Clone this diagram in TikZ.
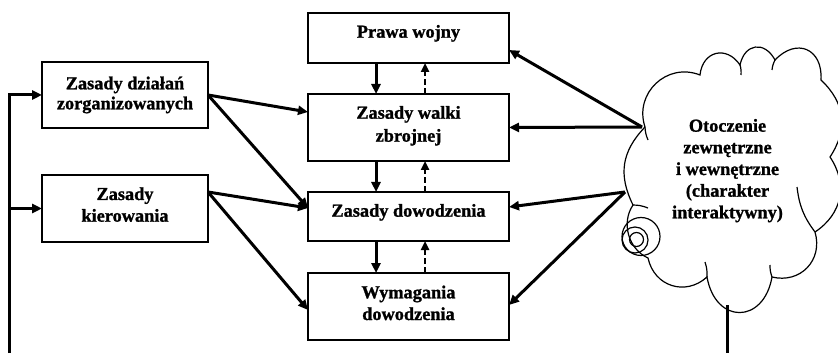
\documentclass[tikz,border=0pt]{standalone}
\usepackage{fontspec}
\newfontfamily\labelface{Liberation Serif}[UprightFont={* Bold}, UprightFeatures={FakeBold=1.2}]
\usetikzlibrary{arrows.meta,calc}
\newcommand\diagfont{\fontsize{9.15}{11}\selectfont\labelface}
\begin{document}
\begin{tikzpicture}[x=0.5pt,y=0.5pt,
  box/.style={draw, line width=0.6pt, inner sep=0pt, outer sep=0pt},
  midbox/.style={box, minimum width=100.5pt},
  sidebox/.style={box, minimum width=83pt, minimum height=33pt},
  lbl/.style={anchor=base, inner sep=0pt, font=\diagfont},
  conn/.style={line width=1.5pt, -{Triangle[length=5pt,width=4.5pt]}},
  back/.style={line width=1.2pt, dash pattern=on 3pt off 1.5pt,
    -{Triangle[length=4.5pt,width=4pt]}},
  plain/.style={line width=1.5pt},
  cloudline/.style={line width=0.6pt}]
\useasboundingbox (0,0) rectangle (838,353);

% central column
\node[midbox, minimum height=25pt]   (pw) at (408.5,315)   {};
\node[midbox, minimum height=33.5pt] (zw) at (408.5,225.5) {};
\node[midbox, minimum height=24.5pt] (zd) at (408.5,136.5) {};
\node[midbox, minimum height=33.5pt] (wd) at (408.5,46.5)  {};
\node[lbl] (pw1) at (408.5,315.3) {Prawa wojny};
\node[lbl] (zw1) at (408.5,234.3) {Zasady walki};
\node[lbl] (zw2) at (408.5,211.3) {zbrojnej};
\node[lbl] (zd1) at (408.5,136.3) {Zasady dowodzenia};
\node[lbl] (wd1) at (408.5,54.7)  {Wymagania};
\node[lbl] (wd2) at (408.5,33)    {dowodzenia};

% left column
\node[sidebox] (zo) at (125,258) {};
\node[sidebox, minimum height=33.5pt] (zk) at (125,144.5) {};
\node[lbl] (zo1) at (125,263.7) {Zasady działań};
\node[lbl] (zo2) at (125,243.7) {zorganizowanych};
\node[lbl] (zk1) at (125,153)   {Zasady};
\node[lbl] (zk2) at (125,131.3) {kierowania};

% cloud outline
\coordinate (c1)  at (645,226);
\coordinate (c2)  at (700,278);
\coordinate (c3)  at (740,288);
\coordinate (c4)  at (775,293);
\coordinate (c5)  at (821,273);
\coordinate (c6)  at (830,196);
\coordinate (c7)  at (815,121);
\coordinate (c8)  at (772,76);
\coordinate (c9)  at (707,76);
\coordinate (c10) at (648,95);
\coordinate (c11) at (633,148);
\draw[cloudline]
  (c1) to[bend left=65, looseness=1.2] (c2)
       to[bend left=70, looseness=1.5] (c3)
       to[bend left=70, looseness=1.6] (c4)
       to[bend left=70, looseness=1.6] (c5)
       to[bend left=40, looseness=1.1] (c6)
       to[bend left=45, looseness=1.1] (c7)
       to[bend left=60, looseness=1.2] (c8)
       to[bend left=80, looseness=1.9] (c9)
       to[bend left=60, looseness=1.2] (c10)
       to[bend left=50, looseness=1.0] (c11)
       to[bend left=35, looseness=1.1] (c1);
% short inner hooks where the puffs overlap
\draw[cloudline] (c1) to[bend right=10] (648,213);
\draw[cloudline] (c3) to[bend left=10] (741,278);
\draw[cloudline] (c4) to[bend right=10] (772,283);
\draw[cloudline] (c7) to[bend left=15] (797,166);
\draw[cloudline] (c8) to[bend left=10] (770,88);
\draw[cloudline] (c9) to[bend right=10] (705,91);
\draw[cloudline] (c11) to[bend left=10] (648,145);

\node[lbl] (en1) at (727.5,221.3) {Otoczenie};
\node[lbl] (en2) at (727.5,199.7) {zewnętrzne};
\node[lbl] (en3) at (727.5,178)   {i wewnętrzne};
\node[lbl] (en4) at (727.5,156.3) {(charakter};
\node[lbl] (en5) at (727.5,134.7) {interaktywny)};

% thought-bubble circles
\draw[cloudline] (641,116.5) circle[radius=9.5pt];
\draw[cloudline] (635,113) circle[radius=6.5pt];
\draw[cloudline] (636.5,113.5) circle[radius=3.5pt];

% feedback trunk on the left
\coordinate (tb) at (9,0);
\coordinate (tj) at (9,144.5);
\draw[conn] (tb) |- (zo.west);
\draw[conn] (tj) -- (zk.west);

% left boxes to the central column
\draw[conn] (zo.east) -- ($(zw.west)+(0,15.5)$);
\draw[conn] (zo.east) -- ($(zd.west)+(0,8.5)$);
\draw[conn] ($(zk.east)+(0,16.5)$) -- ($(zd.west)+(0,8.5)$);
\draw[conn] ($(zk.east)+(0,16.5)$) -- ($(wd.west)+(0,-3.5)$);

% downward links
\draw[conn] ($(pw.south)+(-32.5,0)$) -- ($(zw.north)+(-32.5,0)$);
\draw[conn] ($(zw.south)+(-32.5,0)$) -- ($(zd.north)+(-32.5,0)$);
\draw[conn] ($(zd.south)+(-32.5,0)$) -- ($(wd.north)+(-32.5,0)$);

% upward feedback links
\draw[back] ($(zw.north)+(16.5,0)$) -- ($(pw.south)+(16.5,0)$);
\draw[back] ($(zd.north)+(16.5,0)$) -- ($(zw.south)+(16.5,0)$);
\draw[back] ($(wd.north)+(16.5,0)$) -- ($(zd.south)+(16.5,0)$);

% environment influences
\coordinate (e1) at (642,226);
\coordinate (e2) at (625,161);
\draw[conn] (e1) -- ($(pw.east)+(0,-12)$);
\draw[conn] (e1) -- (zw.east);
\draw[conn] (e2) -- ($(zd.east)+(0,9.5)$);
\draw[conn] (e2) -- ($(wd.east)+(0,1.5)$);

% return path from the environment
\coordinate (eb) at (727,48);
\coordinate (ebb) at (727,0);
\draw[plain] (eb) -- (ebb);
\end{tikzpicture}
\end{document}
